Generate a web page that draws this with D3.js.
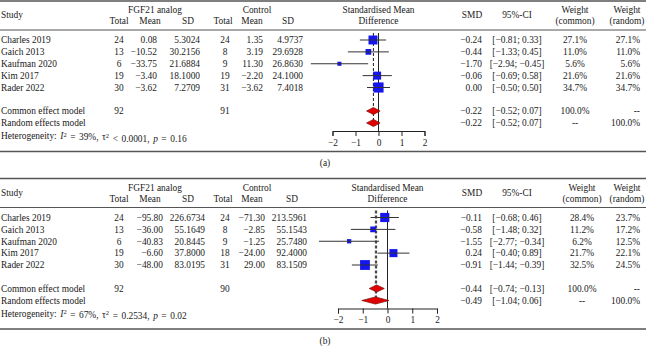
<!DOCTYPE html>
<html><head><meta charset="utf-8">
<script src="https://cdn.jsdelivr.net/npm/d3@7"></script>
<style>
html,body{margin:0;padding:0;background:#fff;}
svg{display:block;}
text{font-family:"Liberation Serif","Times New Roman",serif;font-size:9.4px;fill:#1a1a1a;}
</style></head><body>
<svg id="chart" width="646" height="348"></svg>
<script>
// ---------- DATA ----------
const studies = ["Charles 2019", "Gaich 2013", "Kaufman 2020", "Kim 2017", "Rader 2022"];
const xTicks = [-2, -1, 0, 1, 2];
const panelLabels = ["(a)", "(b)"];

// Panel (a)
const aExpTotal = [24, 13, 6, 19, 30];
const aExpMean = [0.08, -10.52, -33.75, -3.40, -3.62];
const aExpSD = [5.3024, 30.2156, 21.6884, 18.1000, 7.2709];
const aCtlTotal = [24, 8, 9, 19, 31];
const aCtlMean = [1.35, 3.19, 11.30, -2.20, -3.62];
const aCtlSD = [4.9737, 29.6928, 26.8630, 24.1000, 7.4018];
const aSMD = [-0.24, -0.44, -1.70, -0.06, 0.00];
const aLower = [-0.81, -1.33, -2.94, -0.69, -0.50];
const aUpper = [0.33, 0.45, -0.45, 0.58, 0.50];
const aWCommon = [27.1, 11.0, 5.6, 21.6, 34.7];
const aWRandom = [27.1, 11.0, 5.6, 21.6, 34.7];
const aPooledTotals = [92, 91];
const aPooled = [ // common, random
  {name: "Common effect model", est: -0.22, lo: -0.52, hi: 0.07, wc: "100.0%", wr: "--"},
  {name: "Random effects model", est: -0.22, lo: -0.52, hi: 0.07, wc: "--", wr: "100.0%"}
];
const aHet = {I2: "39%", tau2: "< 0.0001", p: "0.16"};

// Panel (b)
const bExpTotal = [24, 13, 6, 19, 30];
const bExpMean = [-95.80, -36.00, -40.83, -6.60, -48.00];
const bExpSD = [226.6734, 55.1649, 20.8445, 37.8000, 83.0195];
const bCtlTotal = [24, 8, 9, 18, 31];
const bCtlMean = [-71.30, -2.85, -1.25, -24.00, 29.00];
const bCtlSD = [213.5961, 55.1543, 25.7480, 92.4000, 83.1509];
const bSMD = [-0.11, -0.58, -1.55, 0.24, -0.91];
const bLower = [-0.68, -1.48, -2.77, -0.40, -1.44];
const bUpper = [0.46, 0.32, -0.34, 0.89, -0.39];
const bWCommon = [28.4, 11.2, 6.2, 21.7, 32.5];
const bWRandom = [23.7, 17.2, 12.5, 22.1, 24.5];
const bPooledTotals = [92, 90];
const bPooled = [
  {name: "Common effect model", est: -0.44, lo: -0.74, hi: -0.13, wc: "100.0%", wr: "--"},
  {name: "Random effects model", est: -0.49, lo: -1.04, hi: 0.06, wc: "--", wr: "100.0%"}
];
const bHet = {I2: "67%", tau2: "= 0.2534", p: "0.02"};

// ---------- HELPERS ----------
const minus = s => s.replace(/-/g, "\u2212");
const f2 = v => minus(v.toFixed(2));
const f4 = v => minus(v.toFixed(4));
const ci = (lo, hi) => "[" + f2(lo) + "; " + f2(hi) + "]";

const svg = d3.select("#chart");

const panels = [
  {top: 0, expTotal: aExpTotal, expMean: aExpMean, expSD: aExpSD, ctlTotal: aCtlTotal, ctlMean: aCtlMean, ctlSD: aCtlSD,
   smd: aSMD, lo: aLower, hi: aUpper, wc: aWCommon, wr: aWRandom, totals: aPooledTotals, pooled: aPooled, het: aHet,
   xr: [332.5, 424.5], cols: {tot: 119, mean: 157, sd: 200, ctot: 225, cmean: 263, csd: 303, wc: 575},
   label: panelLabels[0]},
  {top: 177.5, expTotal: bExpTotal, expMean: bExpMean, expSD: bExpSD, ctlTotal: bCtlTotal, ctlMean: bCtlMean, ctlSD: bCtlSD,
   smd: bSMD, lo: bLower, hi: bUpper, wc: bWCommon, wr: bWRandom, totals: bPooledTotals, pooled: bPooled, het: bHet,
   xr: [338, 437], cols: {tot: 119, mean: 163, sd: 205, ctot: 225, cmean: 265, csd: 307, wc: 582},
   label: panelLabels[1]}
];

panels.forEach(P => {
  const g = svg.append("g").attr("transform", `translate(0,${P.top})`);
  const x = d3.scaleLinear().domain([-2, 2]).range(P.xr);
  const rowY = d3.scalePoint().domain(d3.range(studies.length)).range([40, 87.5]);
  const poolY = [111, 123];
  const axisY = 131;

  const txt = (xx, yy, s, anchor) => g.append("text").attr("x", xx).attr("y", yy)
      .attr("dy", "0.35em").attr("text-anchor", anchor || "start").text(s);

  // rules
  [[1, 1.6], [30, 1.2], [151.5, 1.6]].forEach(([yy, w]) =>
    g.append("line").attr("x1", 0).attr("x2", 646).attr("y1", yy).attr("y2", yy)
      .attr("stroke", "#555").attr("stroke-width", w));

  // headers
  txt(1, 15, "Study");
  txt(155, 10, "FGF21 analog", "middle");
  txt(257, 10, "Control", "middle");
  txt(P.cols.tot, 21, "Total", "middle");
  txt(150, 21, "Mean", "middle");
  txt(188, 21, "SD", "middle");
  txt(P.cols.ctot - 2, 21, "Total", "middle");
  txt(252, 21, "Mean", "middle");
  txt(P.cols.csd - 15, 21, "SD", "middle");
  const xc = (P.xr[0] + P.xr[1]) / 2;
  txt(xc, 10, "Standardised Mean", "middle");
  txt(xc, 21, "Difference", "middle");
  txt(472, 15, "SMD", "middle");
  txt(517, 15, "95%-CI", "middle");
  txt(P.cols.wc, 10, "Weight", "middle");
  txt(P.cols.wc, 21, "(common)", "middle");
  txt(627, 10, "Weight", "middle");
  txt(627, 21, "(random)", "middle");

  // study rows
  studies.forEach((s, i) => {
    const yy = rowY(i);
    txt(1, yy, s);
    txt(P.cols.tot, yy, String(P.expTotal[i]), "middle");
    txt(P.cols.mean, yy, f2(P.expMean[i]), "end");
    txt(P.cols.sd, yy, f4(P.expSD[i]), "end");
    txt(P.cols.ctot, yy, String(P.ctlTotal[i]), "middle");
    txt(P.cols.cmean, yy, f2(P.ctlMean[i]), "end");
    txt(P.cols.csd, yy, f4(P.ctlSD[i]), "end");
    txt(482, yy, f2(P.smd[i]), "end");
    txt(517, yy, ci(P.lo[i], P.hi[i]), "middle");
    txt(P.cols.wc, yy, P.wc[i].toFixed(1) + "%", "middle");
    txt(640, yy, P.wr[i].toFixed(1) + "%", "end");
  });

  // pooled rows text
  P.pooled.forEach((d, k) => {
    const yy = poolY[k];
    txt(1, yy, d.name);
    txt(482, yy, f2(d.est), "end");
    txt(517, yy, ci(d.lo, d.hi), "middle");
    txt(P.cols.wc, yy, d.wc, "middle");
    txt(640, yy, d.wr, "end");
  });
  txt(P.cols.tot, poolY[0], String(P.totals[0]), "middle");
  txt(P.cols.ctot, poolY[0], String(P.totals[1]), "middle");

  // heterogeneity
  const ht = g.append("text").attr("x", 1).attr("y", 136).attr("dy", "0.35em")
    .style("word-spacing", "1.2px");
  ht.append("tspan").text("Heterogeneity: ");
  ht.append("tspan").attr("font-style", "italic").text("I");
  ht.append("tspan").attr("dy", "-0.4em").attr("font-size", "6.5px").text("2");
  ht.append("tspan").attr("dy", "0.4em").text(" = " + P.het.I2 + ", \u03c4");
  ht.append("tspan").attr("dy", "-0.4em").attr("font-size", "6.5px").text("2");
  ht.append("tspan").attr("dy", "0.4em").text(" " + P.het.tau2 + ", ");
  ht.append("tspan").attr("font-style", "italic").text("p");
  ht.append("tspan").text(" = " + P.het.p);

  // zero line
  g.append("line").attr("x1", x(0)).attr("x2", x(0)).attr("y1", 33).attr("y2", axisY)
    .attr("stroke", "#222").attr("stroke-width", 1);
  // pooled dashed lines
  P.pooled.forEach(d => {
    g.append("line").attr("x1", x(d.est)).attr("x2", x(d.est)).attr("y1", 33).attr("y2", 127)
      .attr("stroke", "#333").attr("stroke-width", 1).attr("stroke-dasharray", "3,2");
  });

  // CI lines & squares
  studies.forEach((s, i) => {
    const yy = rowY(i);
    const side = 1.72 * Math.sqrt(P.wc[i]);
    g.append("rect").attr("x", x(P.smd[i]) - side / 2).attr("y", yy - side / 2)
      .attr("width", side).attr("height", side).attr("fill", "#1515ee");
    g.append("line").attr("x1", x(P.lo[i])).attr("x2", x(P.hi[i])).attr("y1", yy).attr("y2", yy)
      .attr("stroke", "#333").attr("stroke-width", 1);
  });

  // diamonds
  P.pooled.forEach((d, k) => {
    const yy = poolY[k], h = 3.6;
    g.append("path")
      .attr("d", `M${x(d.lo)},${yy}L${x(d.est)},${yy - h}L${x(d.hi)},${yy}L${x(d.est)},${yy + h}Z`)
      .attr("fill", "#e00000").attr("stroke", "#7a1010").attr("stroke-width", 0.7);
  });

  // axis
  const ax = g.append("g").attr("transform", `translate(0,${axisY})`)
    .call(d3.axisBottom(x).tickValues(xTicks).tickSize(5).tickPadding(3)
      .tickFormat(v => minus(String(v))));
  ax.select(".domain").attr("stroke", "#222");
  ax.selectAll(".tick line").attr("stroke", "#222");
  ax.selectAll("text").style("font-family", '"Liberation Serif","Times New Roman",serif')
    .style("font-size", "9.4px").attr("fill", "#1a1a1a");

  txt(325, 163, P.label, "middle");
});
</script>
</body></html>
